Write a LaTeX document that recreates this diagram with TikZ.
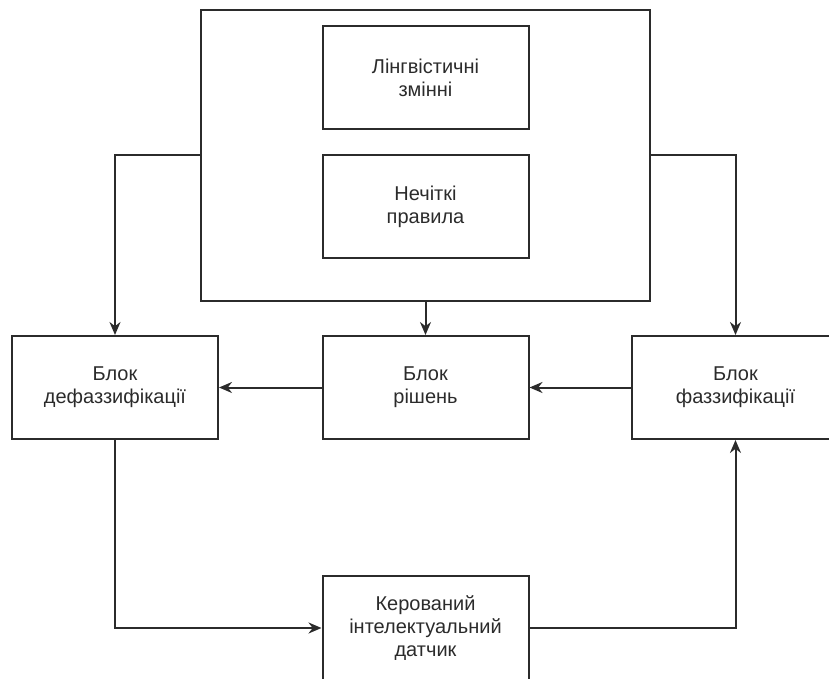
\documentclass[tikz,border=0pt]{standalone}
\usepackage{fontspec}
\setmainfont{Liberation Sans}
\usepackage{xcolor}
\usetikzlibrary{arrows.meta}

\definecolor{lineGray}{HTML}{2B2B2B}

\tikzset{
	blockNode/.style = {draw = lineGray, line width = 2pt, rectangle, minimum width = 206pt, minimum height = 103pt, inner sep = 0pt, align = center, text = lineGray, font = \fontsize{20}{23}\selectfont},
	flowArrow/.style = {draw = lineGray, line width = 2pt, -{Stealth[length = 13pt, width = 11pt]}}
}

\begin{document}
\begin{tikzpicture}[x = 1pt, y = -1pt]
					\def\picW{829};
					\def\picH{679};
					\def\rowY{387.5};
					\def\midX{425.5};

					\useasboundingbox (0,0) rectangle (\picW,\picH);
					\clip (0,0) rectangle (\picW,\picH);

					\begin{scope}
						\node [blockNode, minimum width = 449pt, minimum height = 291pt] (knowledge) at (\midX,155.5) {};
						\node [blockNode] (linguistic) at (\midX,78) {Лінгвістичні\\змінні};
						\node [blockNode] (fuzzyRules) at (\midX,206.5) {Нечіткі\\правила};
					\end{scope}

					\begin{scope}
						\node [blockNode] (defuzz) at (115,\rowY) {Блок\\дефаззифікації};
						\node [blockNode] (decision) at (\midX,\rowY) {Блок\\рішень};
						\node [blockNode, minimum width = 207pt] (fuzz) at (735.5,\rowY) {Блок\\фаззифікації};
						\node [blockNode, minimum height = 104pt] (sensor) at (\midX,628) {Керований\\інтелектуальний\\датчик};
					\end{scope}

					\begin{scope}
						\draw [flowArrow] (knowledge.west) -| (defuzz.north);
						\draw [flowArrow] (knowledge.east) -| (fuzz.north);
						\draw [flowArrow] (knowledge.south) -- (decision.north);
						\draw [flowArrow] (decision.west) -- (defuzz.east);
						\draw [flowArrow] (fuzz.west) -- (decision.east);
						\draw [flowArrow] (defuzz.south) |- (sensor.west);
						\draw [flowArrow] (sensor.east) -| (fuzz.south);
					\end{scope}
				\end{tikzpicture}
\end{document}
